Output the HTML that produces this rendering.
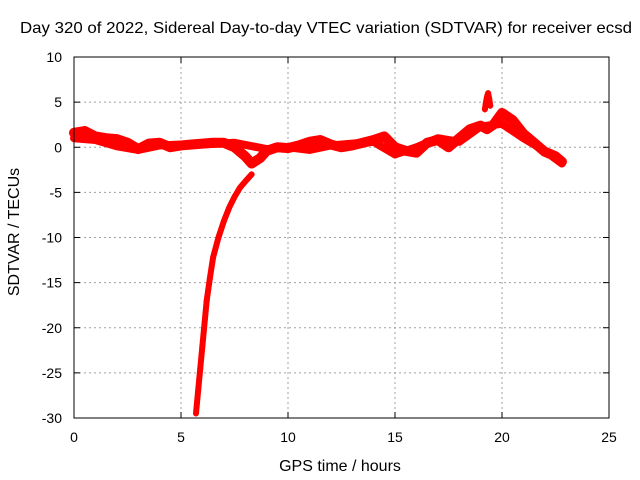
<!DOCTYPE html>
<html><head><meta charset="utf-8"><style>
body{margin:0;background:#fff;}
svg{display:block;font-family:"Liberation Sans",sans-serif;}
</style></head><body>
<svg id="chart" width="640" height="480" viewBox="0 0 640 480">
<rect width="640" height="480" fill="#fff"/>
<text x="326" y="33" font-size="16" textLength="612" lengthAdjust="spacingAndGlyphs" text-anchor="middle">Day 320 of 2022, Sidereal Day-to-day VTEC variation (SDTVAR) for receiver ecsd</text>
<text x="340" y="471" font-size="16" text-anchor="middle">GPS time / hours</text>
<text transform="translate(19,232) rotate(-90)" font-size="16" text-anchor="middle">SDTVAR / TECUs</text>
<g id="grid"></g><g id="ticks"></g><g id="series"></g>
<rect x="74" y="57" width="535" height="361" fill="none" stroke="#000" stroke-width="1"/>
</svg>
<script>
const xTicks=[0,5,10,15,20,25];
const yTicks=[10,5,0,-5,-10,-15,-20,-25,-30];
const bandAX=[0,0.5,1,1.5,2,2.5,3,3.5,4,4.5,5,5.5,6,6.5,7,7.5,8,8.3,8.7,9,9.5,10,10.5,11,11.5,12,12.5,13,13.5,14,14.5,15,15.5,16,16.5,17,17.5,18,18.5,19,19.3,19.6,20,20.5,21,21.5,22,22.5,22.8];
const bandAY=[1.6,1.8,1.2,1,0.9,0.5,-0.2,0.4,0.5,0,0.2,0.3,0.4,0.5,0.5,0,-1,-1.8,-1.2,-0.4,0,-0.1,0.2,0.6,0.8,0.3,0,0.2,0.5,0.8,1.2,0,-0.4,-0.6,0.5,0.8,0,1,2,2.4,2,2.5,3.8,3,1.5,0.5,-0.5,-1,-1.6];
const bandBX=[0,1,2,3,4,5,6,7.5,9,10,11,12,13,14,15,16,17,18,19,20,21,22,22.8];
const bandBY=[1,0.8,0.1,-0.3,0.2,0.3,0.3,0.5,-0.2,0,-0.3,0.2,0.4,0.6,-0.8,0,1,0.6,2.3,2.6,1,-0.4,-1.8];
const spikeX=[19.2,19.25,19.3,19.35,19.4,19.45];
const spikeY=[4.2,5,5.6,6,5.4,4.6];
const dropX=[5.7,5.8,5.9,6,6.1,6.2,6.35,6.5,6.75,7,7.25,7.5,7.75,8,8.3];
const dropY=[-29.5,-27,-24.5,-22,-19.5,-17,-14.5,-12.2,-10,-8.2,-6.7,-5.5,-4.5,-3.8,-3];
const NS="http://www.w3.org/2000/svg";
const sx=v=>74+v*(535/25), sy=v=>57+(10-v)*(361/40);
function mk(t,a,p){const e=document.createElementNS(NS,t);for(const k in a)e.setAttribute(k,a[k]);p.appendChild(e);return e;}
const grid=document.getElementById('grid'),ticks=document.getElementById('ticks'),ser=document.getElementById('series');
xTicks.forEach(v=>{const x=sx(v);
 if(v>0&&v<25){const l=mk('line',{x1:x,x2:x,y1:57,y2:418,stroke:'#a0a0a0','stroke-dasharray':'2,3'},grid);}
 mk('line',{x1:x,x2:x,y1:418,y2:412,stroke:'#000'},ticks);mk('line',{x1:x,x2:x,y1:57,y2:63,stroke:'#000'},ticks);
 const t=mk('text',{x:x,y:442,'font-size':14,'text-anchor':'middle'},ticks);t.textContent=v;
 });
yTicks.forEach(v=>{const y=sy(v);
 if(v<10&&v>-30){const l=mk('line',{x1:74,x2:609,y1:y,y2:y,stroke:'#a0a0a0','stroke-dasharray':'2,3'},grid);}
 mk('line',{x1:74,x2:80,y1:y,y2:y,stroke:'#000'},ticks);mk('line',{x1:609,x2:603,y1:y,y2:y,stroke:'#000'},ticks);
 const t=mk('text',{x:62,y:y+5,'font-size':14,'text-anchor':'end'},ticks);t.textContent=v;
 });
function band(X,Y,w,name){
 const pts=X.map((x,i)=>sx(x)+','+sy(Y[i])).join(' ');
 const p=mk('polyline',{points:pts,fill:'none',stroke:'#ff0000','stroke-width':w,'stroke-linejoin':'round','stroke-linecap':'round'},ser);
 
 X.forEach((x,i)=>{const cx=sx(x),cy=sy(Y[i]);
  const m=mk('path',{d:`M${cx-3},${cy}h6M${cx},${cy-3}v6`,stroke:'#ff0000','stroke-width':1},ser);
  });
}
band(bandAX,bandAY,10,'series-band-a');
band(bandBX,bandBY,8,'series-band-b');
band(dropX,dropY,6,'series-drop-curve');
band(spikeX,spikeY,6,'series-spike');
</script>
</body></html>
